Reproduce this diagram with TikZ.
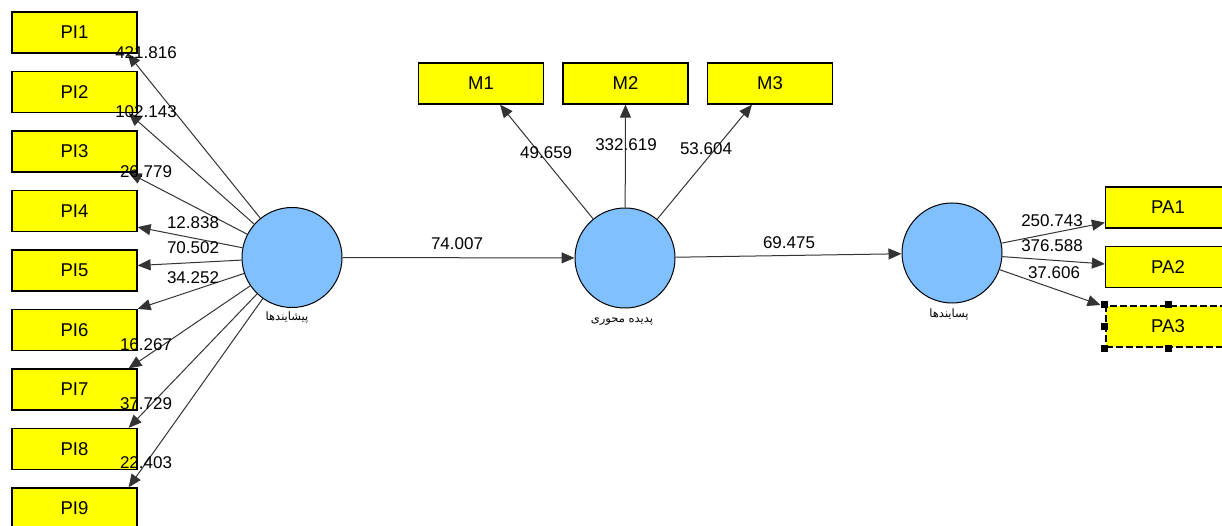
\documentclass[tikz,border=0pt]{standalone}
\usepackage{fontspec}
\setmainfont{Liberation Sans}
\newfontfamily\farsi[Script=Arabic]{DejaVu Sans}
\TeXXeTstate=1
\usetikzlibrary{arrows.meta}
\definecolor{indbox}{HTML}{FFFF00}
\definecolor{latent}{HTML}{80C0FF}
\tikzset{
    item/.style={draw, line width=1.2pt, fill=indbox, minimum width=125pt, minimum height=41pt, inner sep=0pt, font=\fontsize{18.5}{18.5}\selectfont},
    construct/.style={draw, circle, line width=1pt, fill=latent, minimum size=100pt, inner sep=0pt},
    load/.style={draw=black!80, line width=1pt, -{Triangle[length=13pt,width=11pt]}},
    weight/.style={font=\fontsize{17}{17}\selectfont, inner sep=0pt},
    cname/.style={font=\farsi\fontsize{11.5}{11.5}\selectfont, inner sep=0pt},
    grip/.style={fill=black, minimum size=7pt, inner sep=0pt}
}
\begin{document}
\begin{tikzpicture}[x=1pt, y=1pt]
    \useasboundingbox[fill=white] (0,0) rectangle (1222,525);

    % indicators of the first construct
    \node[item] (PI1) at (74.5,492.5) {PI1};
    \node[item] (PI2) at (74.5,433) {PI2};
    \node[item] (PI3) at (74.5,373.5) {PI3};
    \node[item] (PI4) at (74.5,314) {PI4};
    \node[item] (PI5) at (74.5,254.5) {PI5};
    \node[item] (PI6) at (74.5,195) {PI6};
    \node[item] (PI7) at (74.5,135.5) {PI7};
    \node[item] (PI8) at (74.5,76) {PI8};
    \node[item] (PI9) at (74.5,16.5) {PI9};

    \node[item] (M1) at (481,441.5) {M1};
    \node[item] (M2) at (625.5,441.5) {M2};
    \node[item] (M3) at (770,441.5) {M3};

    \node[item] (PA1) at (1168,317.5) {PA1};
    \node[item] (PA2) at (1168,258) {PA2};
    \node[item, line width=2pt, dash pattern=on 7pt off 3pt] (PA3) at (1168,198.5) {PA3};
    \foreach \a in {north west, north, north east, west, east, south west, south, south east}
        \node[grip] at (PA3.\a) {};

    % constructs
    \node[construct] (pre) at (292,267.5) {};
    \node[construct] (core) at (625,267) {};
    \node[construct] (post) at (952,272) {};
    \node[cname] (preN) at (287,207) {\beginR پیشایندها\endR};
    \node[cname] (coreN) at (622,203) {\beginR پدیده محوری\endR};
    \node[cname] (postN) at (949,210) {\beginR پسایندها\endR};

    % arrows
    \draw[load] (pre) -- ([xshift=-10pt]PI1.south east);
    \draw[load] (pre) -- ([xshift=-9pt]PI2.south east);
    \draw[load] (pre) -- ([xshift=-9pt]PI3.south east);
    \draw[load] (pre) -- ([yshift=5pt]PI4.south east);
    \draw[load] (pre) -- ([yshift=5pt]PI5.east);
    \draw[load] (pre) -- (PI6.north east);
    \draw[load] (pre) -- ([xshift=-9pt]PI7.north east);
    \draw[load] (pre) -- ([xshift=-9pt]PI8.north east);
    \draw[load] (pre) -- ([xshift=-9pt]PI9.north east);

    \draw[load] (core) -- ([xshift=19pt]M1.south);
    \draw[load] (core) -- (M2.south);
    \draw[load] (core) -- ([xshift=-18pt]M3.south);

    \draw[load] (pre) -- (core);
    \draw[load] (core) -- (post);

    \draw[load] (post) -- ([yshift=6pt]PA1.south west);
    \draw[load] (post) -- ([yshift=3pt]PA2.west);
    \draw[load] (post) -- ([xshift=-4pt]PA3.north west);

    % path values
    \node[weight] (w1) at (146,472) {421.816};
    \node[weight] (w2) at (146,413) {102.143};
    \node[weight] (w3) at (146,353) {26.779};
    \node[weight] (w4) at (193,302) {12.838};
    \node[weight] (w5) at (193,277) {70.502};
    \node[weight] (w6) at (193,247) {34.252};
    \node[weight] (w7) at (146,180) {16.267};
    \node[weight] (w8) at (146,121) {37.729};
    \node[weight] (w9) at (146,62) {22.403};

    \node[weight, anchor=west] (m1) at (520,372) {49.659};
    \node[weight] (m2) at (626,380) {332.619};
    \node[weight] (m3) at (706,376) {53.604};

    \node[weight] (b1) at (457,281) {74.007};
    \node[weight] (b2) at (789,282) {69.475};

    \node[weight] (a1) at (1052,304) {250.743};
    \node[weight] (a2) at (1052,279) {376.588};
    \node[weight] (a3) at (1054,252) {37.606};
\end{tikzpicture}
\end{document}
